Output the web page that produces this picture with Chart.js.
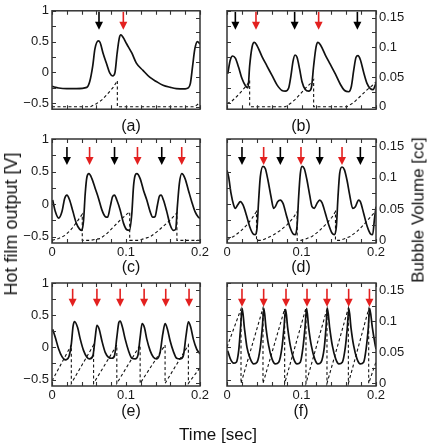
<!DOCTYPE html>
<html><head><meta charset="utf-8">
<script src="https://cdn.jsdelivr.net/npm/chart.js@4.4.1/dist/chart.umd.min.js"></script>
<style>
html,body{margin:0;padding:0;background:#fff;}
#wrap{position:relative;width:428px;height:446px;overflow:hidden;font-family:"Liberation Sans",Arial,sans-serif;color:#111;}
canvas{position:absolute;}
.lbl{position:absolute;white-space:nowrap;transform:translate(-50%,-50%);line-height:1;}
.rot{transform:translate(-50%,-50%) rotate(-90deg);}
</style></head><body>
<div id="wrap">
  <canvas id="pa" width="214" height="120" style="left:0;top:0;width:214px;height:120px"></canvas>
  <canvas id="pb" width="214" height="120" style="left:214px;top:0;width:214px;height:120px"></canvas>
  <canvas id="pc" width="214" height="138" style="left:0;top:125px;width:214px;height:138px"></canvas>
  <canvas id="pd" width="214" height="138" style="left:214px;top:125px;width:214px;height:138px"></canvas>
  <canvas id="pe" width="214" height="136" style="left:0;top:270px;width:214px;height:136px"></canvas>
  <canvas id="pf" width="214" height="136" style="left:214px;top:270px;width:214px;height:136px"></canvas>
  <div class="lbl" style="left:131px;top:126px;font-size:16px">(a)</div>
  <div class="lbl" style="left:301px;top:126px;font-size:16px">(b)</div>
  <div class="lbl" style="left:131px;top:267px;font-size:16px">(c)</div>
  <div class="lbl" style="left:301px;top:267px;font-size:16px">(d)</div>
  <div class="lbl" style="left:131px;top:411px;font-size:16px">(e)</div>
  <div class="lbl" style="left:301px;top:411px;font-size:16px">(f)</div>
  <div class="lbl" style="left:218px;top:434px;font-size:17px">Time [sec]</div>
  <div class="lbl rot" style="left:11px;top:224px;font-size:18px">Hot film output [V]</div>
  <div class="lbl rot" style="left:418px;top:210px;font-size:17px">Bubble Volume [cc]</div>
</div>
<script>
// ---- data: [time (s), hot film output (V)] and [time (s), bubble volume (cc)] ----
const solidA = [[0,-0.23],[0.009,-0.255],[0.02,-0.265],[0.033,-0.265],[0.047,-0.245],[0.051,-0.15],[0.055,0.1],[0.058,0.38],[0.0626,0.51],[0.065,0.485],[0.069,0.31],[0.074,0.13],[0.078,-0.01],[0.082,-0.06],[0.085,-0.01],[0.088,0.31],[0.091,0.56],[0.093,0.61],[0.096,0.57],[0.101,0.46],[0.108,0.31],[0.114,0.15],[0.123,0.03],[0.132,-0.08],[0.141,-0.15],[0.15,-0.21],[0.16,-0.245],[0.168,-0.265],[0.18,-0.27],[0.184,-0.255],[0.187,-0.18],[0.19,0.1],[0.193,0.38],[0.1965,0.5],[0.2,0.46]];
const dashA = [[0,0],[0.052,0],[0.06,0.005],[0.067,0.011],[0.074,0.02],[0.083,0.033],[0.0883,0.044],[0.0883,0],[0.193,0],[0.2,0.007]];
const arrowTA = [0.0635,0.0964];
const arrowCA = ['k','r'];

const solidB = [[0.0009,-0.026],[0.0045,0.204],[0.0076,0.265],[0.0112,0.23],[0.0157,0.077],[0.0201,-0.102],[0.0246,-0.214],[0.0282,-0.255],[0.0304,0.102],[0.0336,0.408],[0.0367,0.485],[0.0403,0.434],[0.047,0.255],[0.0537,0.102],[0.0604,-0.051],[0.0671,-0.204],[0.0738,-0.296],[0.0783,-0.306],[0.0828,-0.255],[0.0859,-0.051],[0.0886,0.179],[0.0913,0.281],[0.094,0.245],[0.0975,0.051],[0.1007,-0.153],[0.1051,-0.281],[0.1096,-0.306],[0.1132,-0.255],[0.1163,0.102],[0.1195,0.408],[0.1221,0.485],[0.1253,0.449],[0.132,0.281],[0.1387,0.128],[0.1454,-0.026],[0.1521,-0.194],[0.1579,-0.296],[0.1633,-0.316],[0.1669,-0.23],[0.17,0.026],[0.1732,0.245],[0.1758,0.27],[0.179,0.204],[0.1834,0],[0.1879,-0.179],[0.1924,-0.265],[0.196,-0.281],[0.2,-0.179]];
const dashB = [[0,0.0053],[0.0067,0.0096],[0.0134,0.0176],[0.0201,0.0267],[0.0268,0.0363],[0.0304,0.0443],[0.0304,0],[0.0783,0],[0.085,0.0053],[0.0917,0.0123],[0.0984,0.0214],[0.1051,0.031],[0.1119,0.039],[0.1163,0.0454],[0.1163,0],[0.1611,0],[0.17,0.0069],[0.179,0.0176],[0.1879,0.0283],[0.1946,0.0353],[0.2,0.0417]];
const arrowTB = [0.0112,0.0389,0.0908,0.123,0.175];
const arrowCB = ['k','r','k','r','k'];

const solidC = [[0.0009,0.061],[0.0045,-0.117],[0.009,-0.218],[0.0135,-0.117],[0.0171,0.086],[0.0202,0.137],[0.0238,0.061],[0.0283,-0.117],[0.0328,-0.294],[0.0373,-0.386],[0.0404,-0.406],[0.0427,-0.244],[0.0449,0.162],[0.0472,0.416],[0.0499,0.467],[0.0539,0.391],[0.0584,0.239],[0.0629,0.086],[0.0674,-0.091],[0.0719,-0.193],[0.0751,-0.203],[0.0787,-0.041],[0.0818,0.112],[0.0845,0.137],[0.0876,0.061],[0.0921,-0.091],[0.0966,-0.294],[0.1011,-0.396],[0.1047,-0.406],[0.1079,-0.142],[0.1101,0.264],[0.1124,0.442],[0.1146,0.467],[0.1191,0.391],[0.1236,0.213],[0.1281,0.061],[0.1326,-0.117],[0.1362,-0.203],[0.1393,-0.193],[0.1425,-0.015],[0.1452,0.122],[0.1474,0.137],[0.1506,0.061],[0.1551,-0.117],[0.1596,-0.32],[0.164,-0.406],[0.1672,-0.386],[0.1694,-0.041],[0.1721,0.315],[0.1753,0.467],[0.1798,0.391],[0.1843,0.213],[0.1888,0.036],[0.1933,-0.117],[0.1978,-0.203],[0.2,-0.218]];
const dashC = [[0,0],[0.009,0.0029],[0.018,0.0082],[0.027,0.0189],[0.0337,0.0295],[0.0409,0.0417],[0.0409,0],[0.0517,0],[0.0652,0.0029],[0.0742,0.0109],[0.0831,0.0215],[0.0921,0.0321],[0.1011,0.0417],[0.105,0.0454],[0.105,0],[0.1169,0],[0.1326,0.0056],[0.1416,0.0135],[0.1506,0.0226],[0.1596,0.0321],[0.1688,0.0438],[0.1688,0],[0.2,0]];
const arrowTC = [0.0202,0.0508,0.0845,0.1155,0.1483,0.1753];
const arrowCC = ['k','r','k','r','k','r'];

const solidD = [[0,0.518],[0.0022,0.416],[0.0054,0.162],[0.0089,-0.015],[0.0112,-0.066],[0.0143,-0.015],[0.0179,0.036],[0.0215,-0.015],[0.026,-0.168],[0.0304,-0.345],[0.0349,-0.457],[0.038,-0.472],[0.0403,-0.371],[0.0425,0.061],[0.0447,0.416],[0.0483,0.579],[0.0515,0.543],[0.055,0.365],[0.0591,0.112],[0.0626,-0.066],[0.0649,-0.041],[0.068,0.036],[0.0716,0.061],[0.0752,0.01],[0.0796,-0.168],[0.0841,-0.345],[0.0886,-0.457],[0.0917,-0.472],[0.094,-0.345],[0.0962,0.112],[0.0984,0.467],[0.1007,0.579],[0.1038,0.543],[0.1074,0.365],[0.111,0.137],[0.1141,-0.041],[0.1172,-0.066],[0.1208,0.01],[0.1244,0.061],[0.1275,0.02],[0.132,-0.142],[0.1365,-0.32],[0.1409,-0.447],[0.1441,-0.472],[0.1468,-0.345],[0.149,0.112],[0.1512,0.467],[0.1544,0.569],[0.1575,0.528],[0.1611,0.365],[0.1647,0.137],[0.1687,-0.066],[0.1723,-0.041],[0.1767,0.061],[0.179,0.036],[0.1834,-0.142],[0.1879,-0.335],[0.1924,-0.457],[0.1955,-0.472],[0.1978,-0.244],[0.2,-0.041]];
const dashD = [[0,0.001],[0.0089,0.0063],[0.0179,0.0142],[0.0268,0.0247],[0.0336,0.0353],[0.0396,0.0458],[0.0396,0],[0.047,0],[0.0537,0.0037],[0.0626,0.0089],[0.0716,0.0158],[0.0805,0.0247],[0.0895,0.0368],[0.0942,0.0458],[0.0942,0],[0.0993,0],[0.1051,0.0021],[0.1141,0.0063],[0.123,0.0142],[0.132,0.0247],[0.1409,0.0368],[0.1456,0.0458],[0.1456,0],[0.1512,0],[0.1566,0.0021],[0.1655,0.0063],[0.1745,0.0142],[0.1834,0.0247],[0.1924,0.0368],[0.2,0.0474]];
const arrowTD = [0.0201,0.0492,0.0716,0.0993,0.1244,0.1544,0.179];
const arrowCD = ['k','r','k','r','k','r','k'];

const solidE = [[0.0009,0.282],[0.0045,0.154],[0.009,-0.026],[0.0135,-0.144],[0.018,-0.195],[0.0225,-0.154],[0.0261,0.051],[0.0285,0.33],[0.0305,0.4],[0.0346,0.308],[0.0382,0.128],[0.0427,-0.051],[0.0472,-0.154],[0.0508,-0.179],[0.0553,-0.128],[0.0584,0.154],[0.0607,0.344],[0.0638,0.282],[0.0674,0.103],[0.0719,-0.077],[0.0764,-0.154],[0.0809,-0.169],[0.0845,-0.128],[0.0876,0.154],[0.0903,0.385],[0.0921,0.41],[0.0953,0.308],[0.0989,0.128],[0.1034,-0.051],[0.1079,-0.169],[0.1124,-0.179],[0.116,-0.128],[0.1191,0.154],[0.1218,0.369],[0.1249,0.308],[0.1281,0.128],[0.1326,-0.051],[0.1371,-0.154],[0.1416,-0.179],[0.1461,-0.077],[0.1497,0.205],[0.1528,0.369],[0.156,0.282],[0.1596,0.103],[0.164,-0.062],[0.1685,-0.169],[0.173,-0.179],[0.1775,-0.128],[0.1811,0.179],[0.1843,0.395],[0.1874,0.318],[0.191,0.128],[0.1955,-0.026],[0.2,-0.103]];
const dashE = [[0,0.004],[0.0261,0.0617],[0.0261,0],[0.0562,0.0617],[0.0562,0],[0.0876,0.0617],[0.0876,0],[0.1191,0.0617],[0.1191,0],[0.1528,0.0617],[0.1528,0],[0.1843,0.0617],[0.1843,0],[0.2,0.0252]];
const arrowTE = [0.0279,0.0607,0.0921,0.1245,0.1537,0.1852];
const arrowCE = ['r','r','r','r','r','r'];

const solidF = [[0.0009,-0.051],[0.0045,-0.179],[0.0089,-0.246],[0.0125,-0.231],[0.0157,-0.051],[0.0179,0.256],[0.0204,0.605],[0.0233,0.308],[0.0268,0],[0.0313,-0.179],[0.0358,-0.256],[0.0403,-0.231],[0.0447,0],[0.0474,0.308],[0.0495,0.605],[0.0523,0.308],[0.0559,0.026],[0.0604,-0.179],[0.0649,-0.256],[0.0694,-0.231],[0.0738,0],[0.0765,0.308],[0.0787,0.59],[0.0814,0.308],[0.085,0.026],[0.0895,-0.179],[0.094,-0.256],[0.0984,-0.231],[0.102,0],[0.1047,0.308],[0.1069,0.605],[0.1096,0.308],[0.1132,0.026],[0.1177,-0.179],[0.1221,-0.256],[0.1262,-0.231],[0.1306,0],[0.1329,0.308],[0.1348,0.605],[0.1378,0.308],[0.1414,0.026],[0.1459,-0.179],[0.1503,-0.256],[0.1548,-0.231],[0.1588,0],[0.1615,0.308],[0.1636,0.605],[0.1664,0.308],[0.17,0.026],[0.1745,-0.179],[0.179,-0.256],[0.1834,-0.231],[0.187,0],[0.1897,0.308],[0.1915,0.605],[0.1951,0.308],[0.1987,0.051],[0.2,-0.026]];
const dashF = [[0,0.0585],[0.0188,0.1197],[0.0188,0],[0.0483,0.1213],[0.0483,0],[0.0774,0.1197],[0.0774,0],[0.106,0.1213],[0.106,0],[0.1342,0.1197],[0.1342,0],[0.1629,0.1213],[0.1629,0],[0.1902,0.1197],[0.1902,0],[0.2,0.0346]];
const arrowTF = [0.0201,0.0492,0.0792,0.1074,0.1342,0.1633,0.1912];
const arrowCF = ['r','r','r','r','r','r','r'];

// ---- rendering ----
Chart.defaults.font.family = '"Liberation Sans", Arial, sans-serif';
Chart.defaults.font.size = 13;
Chart.defaults.color = '#1a1a1a';

const fmt = v => String(Math.round(v * 1000) / 1000).replace('-', '\u2212');

function framePlugin() {
  return {
    id: 'frame',
    afterDatasetsDraw(chart) {
      const {ctx, chartArea: a, scales: s} = chart;
      const L = 4;
      ctx.save();
      ctx.strokeStyle = '#333';
      ctx.lineWidth = 1.1;
      ctx.beginPath();
      for (let i = 0; i <= 10; i++) {
        const px = Math.round(s.x.getPixelForValue(i * 0.02)) + 0.5;
        ctx.moveTo(px, a.bottom); ctx.lineTo(px, a.bottom - L);
        ctx.moveTo(px, a.top); ctx.lineTo(px, a.top + L);
      }
      for (let i = 0; i <= 6; i++) {
        const py = Math.round(s.yV.getPixelForValue(-0.5 + i * 0.25)) + 0.5;
        ctx.moveTo(a.left, py); ctx.lineTo(a.left + L, py);
      }
      for (let i = 0; i <= 6; i++) {
        const py = Math.round(s.yC.getPixelForValue(i * 0.025)) + 0.5;
        ctx.moveTo(a.right, py); ctx.lineTo(a.right - L, py);
      }
      ctx.stroke();
      ctx.lineWidth = 1.5;
      ctx.strokeRect(a.left, a.top, a.right - a.left, a.bottom - a.top);
      ctx.restore();
    }
  };
}

function arrowPlugin(ts, cs, tipV) {
  return {
    id: 'arrows',
    afterDatasetsDraw(chart) {
      const {ctx, scales: s} = chart;
      const yTip = s.yV.getPixelForValue(tipV);
      ts.forEach((t, i) => {
        const x = s.x.getPixelForValue(t);
        const col = cs[i] === 'r' ? '#e3201f' : '#000';
        ctx.save();
        ctx.strokeStyle = col; ctx.fillStyle = col; ctx.lineWidth = 1.6;
        ctx.beginPath(); ctx.moveTo(x, yTip - 18); ctx.lineTo(x, yTip - 7); ctx.stroke();
        ctx.beginPath(); ctx.moveTo(x - 4, yTip - 8); ctx.lineTo(x + 4, yTip - 8); ctx.lineTo(x, yTip); ctx.closePath(); ctx.fill();
        ctx.restore();
      });
    }
  };
}

const toXY = arr => arr.map(p => ({x: p[0], y: p[1]}));

function makePanel(id, solid, dashed, aT, aC, tipV, col, row) {
  const left = col === 0;
  const showX = row > 0;
  const tops = [8, 14, 13];
  const xAxis = {
    type: 'linear', min: 0, max: 0.2, display: showX,
    grid: {display: false, drawTicks: false}, border: {display: false},
    ticks: {stepSize: 0.1, padding: 2, maxRotation: 0, autoSkip: false, callback: fmt}
  };
  if (showX) xAxis.afterFit = sc => { sc.height = 20; };
  const yV = {
    type: 'linear', position: 'left', min: -0.6, max: 1, display: left,
    grid: {display: false, drawTicks: false}, border: {display: false},
    ticks: {stepSize: 0.5, includeBounds: false, padding: 3, callback: fmt}
  };
  if (left) yV.afterFit = sc => { sc.width = 52; };
  const yC = {
    type: 'linear', position: 'right', min: -0.0042, max: 0.1615, display: !left,
    grid: {display: false, drawTicks: false}, border: {display: false},
    ticks: {stepSize: 0.05, includeBounds: false, padding: 3, callback: fmt}
  };
  if (!left) yC.afterFit = sc => { sc.width = 52; };
  new Chart(document.getElementById(id), {
    type: 'line',
    data: {datasets: [
      {data: toXY(solid), yAxisID: 'yV', borderColor: '#111', borderWidth: 1.7, pointRadius: 0, cubicInterpolationMode: 'monotone', fill: false},
      {data: toXY(dashed), yAxisID: 'yC', borderColor: '#111', borderWidth: 1.1, borderDash: [3, 2.5], pointRadius: 0, tension: 0, fill: false}
    ]},
    options: {
      responsive: false, animation: false, events: [],
      layout: {padding: {top: tops[row], bottom: row === 0 ? 8 : 0, left: left ? 0 : 13, right: left ? 14 : 0}},
      plugins: {legend: {display: false}, tooltip: {enabled: false}},
      scales: {x: xAxis, yV: yV, yC: yC}
    },
    plugins: [framePlugin(), arrowPlugin(aT, aC, tipV)]
  });
}

makePanel('pa', solidA, dashA, arrowTA, arrowCA, 0.69, 0, 0);
makePanel('pb', solidB, dashB, arrowTB, arrowCB, 0.69, 1, 0);
makePanel('pc', solidC, dashC, arrowTC, arrowCC, 0.60, 0, 1);
makePanel('pd', solidD, dashD, arrowTD, arrowCD, 0.60, 1, 1);
makePanel('pe', solidE, dashE, arrowTE, arrowCE, 0.63, 0, 2);
makePanel('pf', solidF, dashF, arrowTF, arrowCF, 0.63, 1, 2);
</script>
</body></html>
